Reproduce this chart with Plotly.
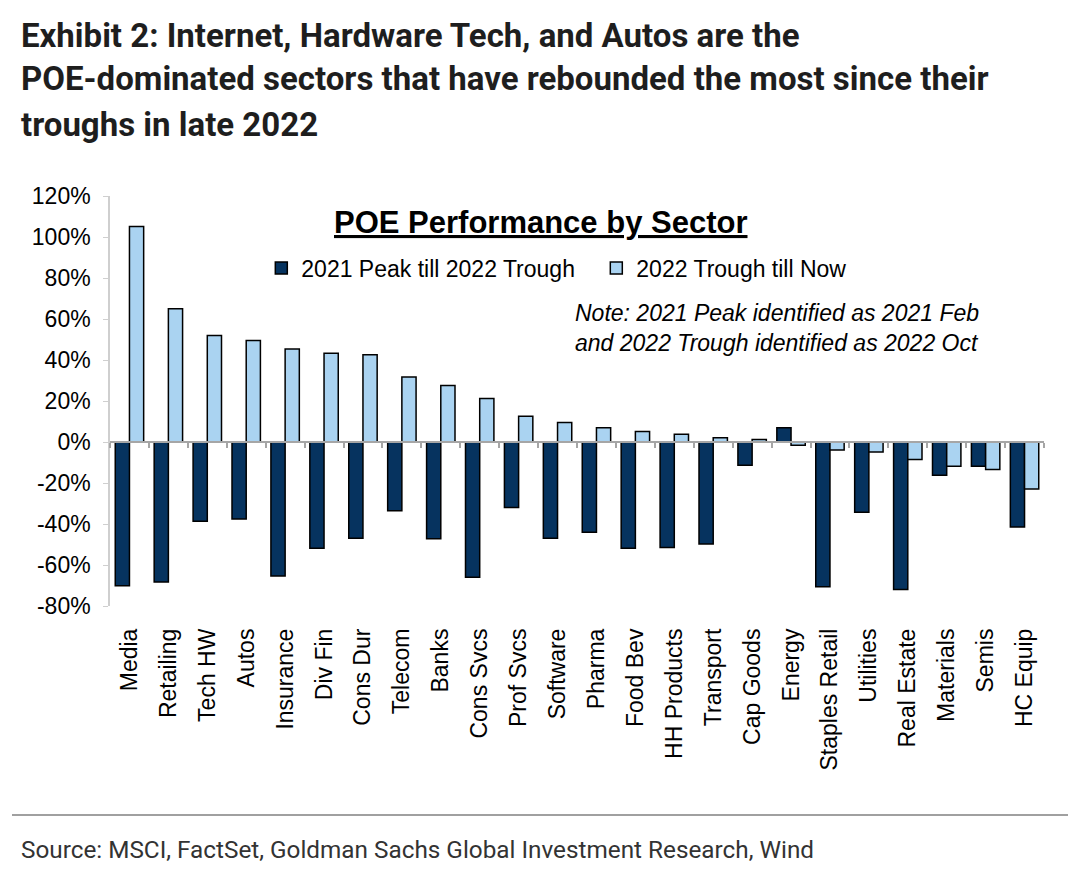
import plotly.graph_objects as go

categories = ["Media", "Retailing", "Tech HW", "Autos", "Insurance", "Div Fin", "Cons Dur",
              "Telecom", "Banks", "Cons Svcs", "Prof Svcs", "Software", "Pharma", "Food Bev",
              "HH Products", "Transport", "Cap Goods", "Energy", "Staples Retail", "Utilities",
              "Real Estate", "Materials", "Semis", "HC Equip"]
peak_to_trough = [-70.1, -68.3, -38.7, -37.6, -65.4, -51.8, -46.9, -33.5, -47.2, -66.0, -32.0,
                  -46.9, -44.0, -51.8, -51.5, -49.7, -11.3, 6.9, -70.6, -34.3, -71.9, -16.2,
                  -11.8, -41.5]
trough_to_now = [105.1, 65.0, 52.0, 49.5, 45.4, 43.3, 42.6, 31.7, 27.5, 21.2, 12.6,
                 9.5, 7.0, 5.1, 3.8, 2.1, 1.2, -1.6, -3.9, -4.9, -8.5, -11.8, -13.4, -22.9]
series_names = ["2021 Peak till 2022 Trough", "2022 Trough till Now"]
y_ticks = [120, 100, 80, 60, 40, 20, 0, -20, -40, -60, -80]
title_lines = ["Exhibit 2: Internet, Hardware Tech, and Autos are the",
               "POE-dominated sectors that have rebounded the most since their",
               "troughs in late 2022"]

DARK = "#06335F"
LIGHT = "#AAD3F1"
GRID = "#A6A6A6"
FONT = "Liberation Sans, Arial, sans-serif"
TITLE_FONT = "Roboto, Liberation Sans, sans-serif"

# plot area in screen pixels: x 110..1044, y 196..606
def px(x):
    return (x - 110) / 934.0

def py(y):
    return (606 - y) / 410.0

fig = go.Figure()
fig.add_trace(go.Bar(x=categories, y=peak_to_trough, name=series_names[0],
                     marker=dict(color=DARK, line=dict(color="#000000", width=1.5))))
fig.add_trace(go.Bar(x=categories, y=trough_to_now, name=series_names[1],
                     marker=dict(color=LIGHT, line=dict(color="#000000", width=1.5))))
# helper trace for the zero-line axis with boundary ticks
fig.add_trace(go.Scatter(x=[None], y=[None], xaxis="x2", showlegend=False, hoverinfo="skip"))

n = len(categories)
fig.update_layout(
    width=1080, height=890,
    paper_bgcolor="white", plot_bgcolor="white",
    margin=dict(l=102, r=44, t=188, b=292),
    barmode="group", bargap=0.27, bargroupgap=0.0,
    font=dict(family=FONT, size=23, color="#000000"),
    xaxis=dict(type="category", tickangle=-90, showline=False, showgrid=False, zeroline=False,
               ticks="", ticklabelstandoff=17, tickfont=dict(size=23, family=FONT)),
    xaxis2=dict(overlaying="x", anchor="free", position=0.4, range=[-0.5, n - 0.5],
                showline=True, linecolor=GRID, linewidth=2, showgrid=False, zeroline=False,
                tickvals=[i + 0.5 for i in range(-1, n)], ticks="outside", ticklen=5,
                tickcolor=GRID, tickwidth=1.5, showticklabels=False),
    yaxis=dict(range=[-80, 120], tickvals=y_ticks, ticktext=[f"{v}%" for v in y_ticks],
               showline=True, linecolor="#CFCFCF", linewidth=1.5, showgrid=False,
               zeroline=False, ticks="outside", ticklen=5, tickcolor="#CFCFCF",
               ticklabelstandoff=8, tickfont=dict(size=23, family=FONT)),
    legend=dict(orientation="h", x=0.162, y=py(268), xanchor="left", yanchor="middle",
                font=dict(size=23, family=FONT), entrywidth=290, entrywidthmode="pixels",
                itemwidth=30, bgcolor="rgba(0,0,0,0)"),
    showlegend=True,
)

fig.add_annotation(xref="paper", yref="paper", x=px(541), y=py(223), xanchor="center", yanchor="middle",
                   text="<b><u>POE Performance by Sector</u></b>", showarrow=False,
                   font=dict(size=31, family=FONT))
fig.add_annotation(xref="paper", yref="paper", x=px(573), y=py(328), xanchor="left", yanchor="middle",
                   text="<i>Note: 2021 Peak identified as 2021 Feb<br>and 2022 Trough identified as 2022 Oct</i>",
                   showarrow=False, align="left", font=dict(size=23, family=FONT))

# title, one annotation per line for exact line pitch
for line, yc in zip(title_lines, [35, 79, 124]):
    fig.add_annotation(xref="paper", yref="paper", x=px(19), y=py(yc), xanchor="left", yanchor="middle",
                       text=f"<b>{line}</b>", showarrow=False, align="left",
                       font=dict(size=33, family=TITLE_FONT, color="#1E1E1E"))
# source
fig.add_annotation(xref="paper", yref="paper", x=px(19), y=py(849), xanchor="left", yanchor="middle",
                   text="Source: MSCI, FactSet, Goldman Sachs Global Investment Research, Wind",
                   showarrow=False, align="left", font=dict(size=24.3, family=TITLE_FONT, color="#333333"))
fig.add_shape(type="line", xref="paper", yref="paper", x0=px(12), x1=px(1068),
              y0=py(815), y1=py(815), line=dict(color="#A0A0A0", width=2))

fig.write_html("out.html")
